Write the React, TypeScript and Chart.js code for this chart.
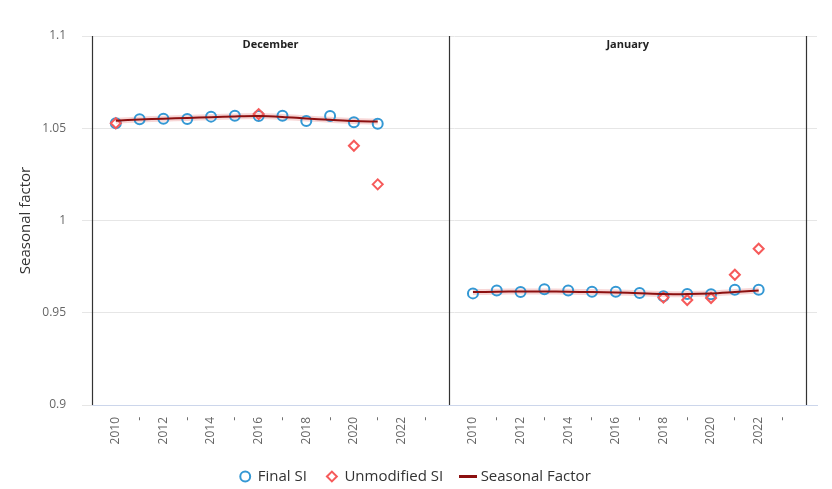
import { useEffect, useRef } from 'react';
import Chart from 'chart.js/auto';
import type { Plugin } from 'chart.js';

// panels: each month gets its own block of 15 slots on the x axis
const panelNames = ['December', 'January'];
const tickYears = [2010, 2011, 2012, 2013, 2014, 2015, 2016, 2017, 2018, 2019, 2020, 2021, 2022, 2023];
const yTicks = [0.9, 0.95, 1, 1.05, 1.1];

const decYears = [2010, 2011, 2012, 2013, 2014, 2015, 2016, 2017, 2018, 2019, 2020, 2021];
const decFinalSI = [1.0527, 1.0549, 1.0552, 1.055, 1.0563, 1.0568, 1.0566, 1.0568, 1.0539, 1.0566, 1.0532, 1.0525];
const decSeasonal = [1.0541, 1.0547, 1.0552, 1.0556, 1.056, 1.0564, 1.0566, 1.0561, 1.0553, 1.0546, 1.0539, 1.0536];
const decUnmodYears = [2010, 2016, 2020, 2021];
const decUnmodSI = [1.0527, 1.0577, 1.0405, 1.0196];

const janYears = [2010, 2011, 2012, 2013, 2014, 2015, 2016, 2017, 2018, 2019, 2020, 2021, 2022];
const janFinalSI = [0.9605, 0.962, 0.9612, 0.9627, 0.962, 0.9614, 0.9614, 0.9607, 0.9589, 0.9602, 0.96, 0.9625, 0.9625];
const janSeasonal = [0.9612, 0.9614, 0.9615, 0.9615, 0.9614, 0.9612, 0.961, 0.9606, 0.9602, 0.9601, 0.9604, 0.9612, 0.962];
const janUnmodYears = [2018, 2019, 2020, 2021, 2022];
const janUnmodSI = [0.9582, 0.9569, 0.958, 0.9706, 0.9847];

const SLOTS = 15;
const SF_COLOR = 'rgb(140,16,16)';
const toX = (panel: number, year: number) => panel * SLOTS + (year - tickYears[0]);

const pts = (panel: number, years: number[], vals: number[]) =>
    years.map((yr, i) => ({ x: toX(panel, yr), y: vals[i] }));

const panelPlugin: Plugin<'line'> = {
    id: 'panels',
    beforeDatasetsDraw(chart) {
        const { ctx, chartArea } = chart;
        const x = chart.scales.x;
        ctx.save();
        ctx.strokeStyle = '#333';
        ctx.lineWidth = 1.2;
        for (let p = 0; p <= panelNames.length; p++) {
            const px = Math.round(x.getPixelForValue(p * SLOTS - 1)) + 0.5;
            ctx.beginPath();
            ctx.moveTo(px, chartArea.top);
            ctx.lineTo(px, chartArea.bottom);
            ctx.stroke();
        }
        ctx.fillStyle = '#222';
        ctx.font = 'bold 11px "Open Sans"';
        ctx.textAlign = 'center';
        ctx.textBaseline = 'middle';
        panelNames.forEach((name, p) => {
            const a = x.getPixelForValue(p * SLOTS - 1);
            const b = x.getPixelForValue((p + 1) * SLOTS - 1);
            ctx.fillText(name, (a + b) / 2, chartArea.top + 9);
        });
        ctx.restore();
    },
};

// legend is a bit shorter than chart.js would make it
const legendFit: Plugin<'line'> = {
    id: 'legendFit',
    afterInit(chart) {
        const legend = chart.legend as any;
        if (!legend) return;
        const orig = legend.fit;
        legend.fit = function () {
            orig.call(this);
            this.height = 40;
        };
    },
};

function lineSwatch() {
    const c = document.createElement('canvas');
    c.width = 18;
    c.height = 3;
    const g = c.getContext('2d');
    if (g) {
        g.fillStyle = SF_COLOR;
        g.fillRect(0, 0, 18, 3);
    }
    return c;
}

export default function App() {
    const canvasRef = useRef<HTMLCanvasElement | null>(null);

    useEffect(() => {
        document.body.style.margin = '0';
        const canvas = canvasRef.current;
        if (!canvas) return;

        const finalSI = [...pts(0, decYears, decFinalSI), ...pts(1, janYears, janFinalSI)];
        const unmodSI = [...pts(0, decUnmodYears, decUnmodSI), ...pts(1, janUnmodYears, janUnmodSI)];
        // null between the two months so the line breaks
        const seasonal = [
            ...pts(0, decYears, decSeasonal),
            { x: SLOTS - 1, y: null as unknown as number },
            ...pts(1, janYears, janSeasonal),
        ];

        const chart = new Chart(canvas, {
            type: 'line',
            data: {
                datasets: [
                    {
                        label: 'Final SI',
                        data: finalSI,
                        showLine: false,
                        pointStyle: 'circle',
                        pointRadius: 5,
                        pointBorderWidth: 2,
                        pointBackgroundColor: 'rgba(255,255,255,0)',
                        borderColor: 'rgb(52,152,212)',
                        backgroundColor: 'rgba(255,255,255,0)',
                        order: 3,
                    },
                    {
                        label: 'Unmodified SI',
                        data: unmodSI,
                        showLine: false,
                        pointStyle: 'rectRot',
                        pointRadius: 5,
                        pointBorderWidth: 2,
                        pointBackgroundColor: 'rgba(255,255,255,0)',
                        borderColor: 'rgb(246,90,90)',
                        backgroundColor: 'rgba(255,255,255,0)',
                        order: 2,
                    },
                    {
                        label: 'Seasonal Factor',
                        data: seasonal,
                        pointRadius: 0,
                        pointStyle: lineSwatch(),
                        borderColor: SF_COLOR,
                        backgroundColor: SF_COLOR,
                        borderWidth: 2,
                        spanGaps: false,
                        tension: 0.3,
                        order: 1,
                    },
                    {
                        label: 'glow',
                        data: seasonal,
                        pointRadius: 0,
                        borderColor: 'rgba(220,70,70,0.22)',
                        borderWidth: 6,
                        spanGaps: false,
                        tension: 0.3,
                        order: 4,
                    },
                ],
            },
            options: {
                responsive: true,
                maintainAspectRatio: false,
                animation: false,
                layout: { padding: { top: 36, right: 15, left: 14, bottom: 0 } },
                plugins: {
                    legend: {
                        position: 'bottom',
                        labels: {
                            usePointStyle: true,
                            boxWidth: 10,
                            boxHeight: 7,
                            padding: 20,
                            color: '#333',
                            font: { family: '"Open Sans"', size: 15 },
                            filter: (item) => item.text !== 'glow',
                            sort: (a, b) => (a.datasetIndex ?? 0) - (b.datasetIndex ?? 0),
                        },
                    },
                    tooltip: { enabled: false },
                },
                scales: {
                    x: {
                        type: 'linear',
                        min: -1,
                        max: 2 * SLOTS - 0.55,
                        afterBuildTicks: (axis) => {
                            const t: { value: number }[] = [];
                            for (let p = 0; p < panelNames.length; p++) {
                                tickYears.forEach((yr) => t.push({ value: toX(p, yr) }));
                            }
                            axis.ticks = t;
                        },
                        afterFit: (axis) => {
                            axis.height = 44;
                        },
                        grid: { display: false, drawTicks: false },
                        border: { display: true, color: '#ccd6eb' },
                        ticks: {
                            autoSkip: false,
                            minRotation: 90,
                            maxRotation: 90,
                            padding: 12,
                            color: '#666',
                            font: { family: '"Open Sans"', size: 12 },
                            callback: (v) => {
                                const year = tickYears[0] + (Number(v) % SLOTS);
                                return year % 2 === 0 ? String(year) : '-';
                            },
                        },
                    },
                    y: {
                        min: yTicks[0],
                        max: yTicks[yTicks.length - 1],
                        afterBuildTicks: (axis) => {
                            axis.ticks = yTicks.map((value) => ({ value }));
                        },
                        afterFit: (axis) => {
                            axis.width = 78;
                        },
                        grid: { color: '#e6e6e6', tickLength: 10 },
                        border: { display: false },
                        ticks: {
                            padding: 16,
                            color: '#666',
                            font: { family: '"Open Sans"', size: 12 },
                            callback: (v) => String(Number(Number(v).toFixed(2))),
                        },
                        title: {
                            display: true,
                            text: 'Seasonal factor',
                            color: '#333',
                            font: { family: '"Open Sans"', size: 15 },
                            padding: { top: 3, bottom: 0 },
                        },
                    },
                },
            },
            plugins: [panelPlugin, legendFit],
        });

        return () => {
            chart.destroy();
        };
    }, []);

    return (
        <div style={{ width: 832, height: 489 }}>
            <canvas ref={canvasRef} />
        </div>
    );
}
